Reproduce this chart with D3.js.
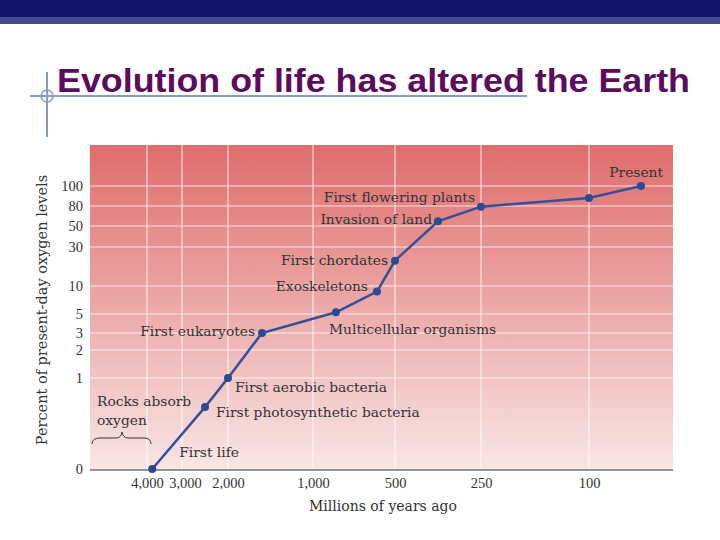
<!DOCTYPE html><html><head><meta charset="utf-8"><script src="https://cdn.jsdelivr.net/npm/d3@7"></script>
<style>body{margin:0;background:#fff}</style></head><body><svg id="c" width="720" height="540"></svg><script>
const xTicks=[4000,3000,2000,1000,500,250,100];
const xTickLabels=["4,000","3,000","2,000","1,000","500","250","100"];
const yTicks=[0,1,2,3,5,10,30,50,80,100];
const ages=[3850,2500,2000,1600,860,610,500,375,250,100,0];
const oxygen=[0,0.68,1,3,5.3,9,23,57,79,88,100];
const events=["First life","First photosynthetic bacteria","First aerobic bacteria","First eukaryotes","Multicellular organisms","Exoskeletons","First chordates","Invasion of land","First flowering plants","",'Present'];
const labelOffsets=[[27,-17,"start"],[11,5,"start"],[7,9,"start"],[-7,-2,"end"],[-7,17,"start"],[-9,-6,"end"],[-7,-1,"end"],[-6,-2,"end"],[-6,-10,"end"],[0,0,"start"],[22,-14,"end"]];
const svg=d3.select("#c");
svg.append("rect").attr("width",720).attr("height",17).attr("fill","#12126a");
svg.append("rect").attr("y",17).attr("width",720).attr("height",7).attr("fill","#434b8c");
svg.append("text").attr("x",57).attr("y",92).attr("font-family","Liberation Sans, Arial").attr("font-weight","bold").attr("font-size",34).attr("fill","#5c0c5c").attr("textLength",633).attr("lengthAdjust","spacingAndGlyphs").text("Evolution of life has altered the Earth");
svg.append("line").attr("x1",30).attr("x2",527).attr("y1",96).attr("y2",96).attr("stroke","#8a9ac4").attr("stroke-width",2);
svg.append("line").attr("x1",47).attr("x2",47).attr("y1",72).attr("y2",137).attr("stroke","#8a9ac4").attr("stroke-width",2);
svg.append("circle").attr("cx",47).attr("cy",96).attr("r",6).attr("fill","none").attr("stroke","#8a9ac4").attr("stroke-width",1.5);
const L=90,R=673,T=145,B=470;
const x=d3.scaleLinear().domain([4000,3000,2000,1000,500,250,100,0]).range([147,182,228,313,395,481,589,641]);
const y=d3.scaleLinear().domain(yTicks).range([469,378,350,333,314,286,247,226,206,186]);
const g=svg.append("defs").append("linearGradient").attr("id","bg").attr("x1",0).attr("x2",0).attr("y1",0).attr("y2",1);
g.append("stop").attr("offset","0").attr("stop-color","#df6c6c");
g.append("stop").attr("offset","1").attr("stop-color","#f9e6e6");
svg.append("rect").attr("x",L).attr("y",T).attr("width",R-L).attr("height",B-T).attr("fill","url(#bg)");
const grid=svg.append("g").attr("stroke","#fff").attr("stroke-opacity",0.75).attr("stroke-width",1.2);
yTicks.slice(1).forEach(v=>grid.append("line").attr("x1",L).attr("x2",R).attr("y1",y(v)).attr("y2",y(v)));
xTicks.forEach(v=>grid.append("line").attr("y1",T).attr("y2",B).attr("x1",x(v)).attr("x2",x(v)));
const font="DejaVu Serif, serif";
const tfont="Liberation Serif, serif";
const xa=svg.append("g").attr("transform",`translate(0,${B})`).call(d3.axisBottom(x).tickValues(xTicks).tickFormat((d,i)=>xTickLabels[i]).tickSize(0).tickPadding(8));
xa.select(".domain").attr("d",`M${L},0H${R}`).attr("stroke","#333");
xa.selectAll(".tick").filter(d=>d===3000).select("text").attr("dx",3);
const ya=svg.append("g").attr("transform",`translate(${L},0)`).call(d3.axisLeft(y).tickValues(yTicks).tickSize(0).tickPadding(7));
ya.select(".domain").remove();
svg.selectAll(".tick text").attr("font-family",tfont).attr("font-size",14.5).attr("fill","#333");
svg.append("text").attr("x",383).attr("y",511).attr("text-anchor","middle").attr("font-family",font).attr("font-size",14).attr("fill","#333").text("Millions of years ago");
svg.append("text").attr("transform","translate(47,310) rotate(-90)").attr("text-anchor","middle").attr("font-family",font).attr("font-size",14.5).attr("fill","#333").text("Percent of present-day oxygen levels");
const pts=ages.map((a,i)=>[x(a),y(oxygen[i])]);
svg.append("path").attr("d",d3.line()(pts)).attr("fill","none").attr("stroke","#33509a").attr("stroke-width",2.5);
svg.selectAll("circle.p").data(pts).join("circle").attr("class","p").attr("cx",d=>d[0]).attr("cy",d=>d[1]).attr("r",4).attr("fill","#2c4a92");
svg.selectAll("text.ev").data(events).join("text").attr("class","ev")
 .attr("x",(d,i)=>pts[i][0]+labelOffsets[i][0]).attr("y",(d,i)=>pts[i][1]+labelOffsets[i][1]+5)
 .attr("text-anchor",(d,i)=>labelOffsets[i][2]).attr("font-family",font).attr("font-size",13.8).attr("fill","#333").text(d=>d);
svg.append("text").attr("x",97).attr("y",406).attr("font-family",font).attr("font-size",13.8).attr("fill","#333").text("Rocks absorb");
svg.append("text").attr("x",97).attr("y",425).attr("font-family",font).attr("font-size",13.8).attr("fill","#333").text("oxygen");
svg.append("path").attr("d","M92,444 Q92,438 100,438 L116,438 Q121,438 122,432 Q123,438 128,438 L144,438 Q151,438 151,444").attr("fill","none").attr("stroke","#333").attr("stroke-width",1);
</script></body></html>
